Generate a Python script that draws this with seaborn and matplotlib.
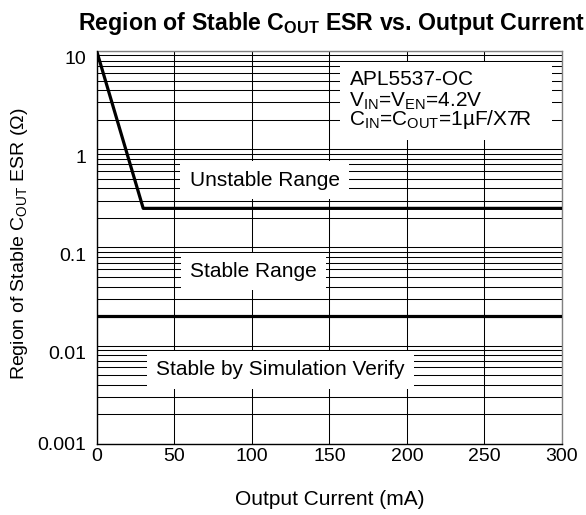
import numpy as np
import pandas as pd
import matplotlib
matplotlib.use("Agg")
import matplotlib.pyplot as plt
import matplotlib.transforms as mtransforms
from matplotlib.patches import Rectangle
import seaborn as sns

# ---------------------------------------------------------------------------
# Data
# ---------------------------------------------------------------------------
upper_current = [0, 30, 300]          # mA
upper_esr = [10, 0.25, 0.25]          # ohm
lower_current = [0, 300]
lower_esr = [0.02, 0.02]

region_labels = ["Unstable Range", "Stable Range", "Stable by Simulation Verify"]
region_x = [108.4, 101.0, 118.7]
region_y = [0.486, 0.0568, 0.00566]

x_ticks = [0, 50, 100, 150, 200, 250, 300]
y_ticks = [0.001, 0.01, 0.1, 1, 10]
y_tick_labels = ["0.001", "0.01", "0.1", "1", "10"]

note_lines = [
    "APL5537-OC",
    r"V$_{\mathregular{IN}}$=V$_{\mathregular{EN}}$=4.2V",
    r"C$_{\mathregular{IN}}$=C$_{\mathregular{OUT}}$=1µF/X7R",
]

# ---------------------------------------------------------------------------
# Style
# ---------------------------------------------------------------------------
sns.set_theme(style="white")
plt.rcParams["font.family"] = ["Liberation Sans", "DejaVu Sans"]
plt.rcParams["mathtext.fontset"] = "custom"
plt.rcParams["mathtext.rm"] = "Liberation Sans"
plt.rcParams["mathtext.it"] = "Liberation Sans:italic"
plt.rcParams["mathtext.bf"] = "Liberation Sans:bold"
for key in ["text.color", "axes.labelcolor", "xtick.color", "ytick.color"]:
    plt.rcParams[key] = "black"

fig = plt.figure(figsize=(5.86, 5.15), dpi=100)
ax = fig.add_axes([0.165, 0.138, 0.794, 0.763])

ax.set_yscale("log")
ax.set_xlim(0, 300)
ax.set_ylim(0.001, 10)

# grid: major + minor horizontal, major vertical
ax.set_axisbelow(True)
ax.grid(True, which="major", axis="both", color="black", linewidth=0.75)
ax.grid(True, which="minor", axis="y", color="black", linewidth=0.75)

# boundary lines
sns.lineplot(x=upper_current, y=upper_esr, ax=ax, color="black",
             linewidth=2.3, estimator=None, sort=False, zorder=4)
sns.lineplot(x=lower_current, y=lower_esr, ax=ax, color="black",
             linewidth=2.3, estimator=None, sort=False, zorder=4)

# region labels with white boxes hiding the grid
for label, xv, yv in zip(region_labels, region_x, region_y):
    ax.text(xv, yv, label, fontsize=15, ha="center", va="center", zorder=3,
            bbox=dict(boxstyle="square,pad=0.45", facecolor="white",
                      edgecolor="none"))

# condition note, top right
ax.add_patch(Rectangle((156.8, 1.24), 136.6, 7.73 - 1.24, facecolor="white",
                       edgecolor="none", zorder=2))
note_y = [4.51, 2.69, 1.77]
for line, yv in zip(note_lines, note_y):
    ax.text(163, yv, line, fontsize=15, ha="left", va="baseline", zorder=3)

# ticks
ax.set_xticks(x_ticks)
ax.set_xticklabels([str(v) for v in x_ticks], fontsize=14)
ax.set_yticks(y_ticks)
ax.set_yticklabels(y_tick_labels, fontsize=14)
ax.tick_params(axis="both", which="both", length=0)
ax.tick_params(axis="x", pad=3)
ax.tick_params(axis="y", pad=7.5)

# y tick labels sit a little under their grid lines (except the bottom one)
shift = mtransforms.ScaledTranslation(0, -0.07, fig.dpi_scale_trans)
for lbl in ax.get_yticklabels()[1:]:
    lbl.set_transform(lbl.get_transform() + shift)

for side in ["left", "bottom"]:
    ax.spines[side].set_color("black")
    ax.spines[side].set_linewidth(1.0)
for side in ["top", "right"]:
    ax.spines[side].set_color("#808080")
    ax.spines[side].set_linewidth(1.0)

ax.set_ylabel(r"Region of Stable C$_{\mathregular{OUT}}$ ESR (Ω)", fontsize=14)
ax.yaxis.set_label_coords(-0.143, 0.51)
fig.text(0.562, 0.03, "Output Current (mA)", fontsize=15, ha="center",
         va="center")

fig.text(0.565, 0.955, r"Region of Stable C$_{\mathregular{OUT}}$ ESR vs. Output Current",
         fontsize=16.7, fontweight="bold", ha="center", va="center")

fig.savefig("out.png", dpi=100)
